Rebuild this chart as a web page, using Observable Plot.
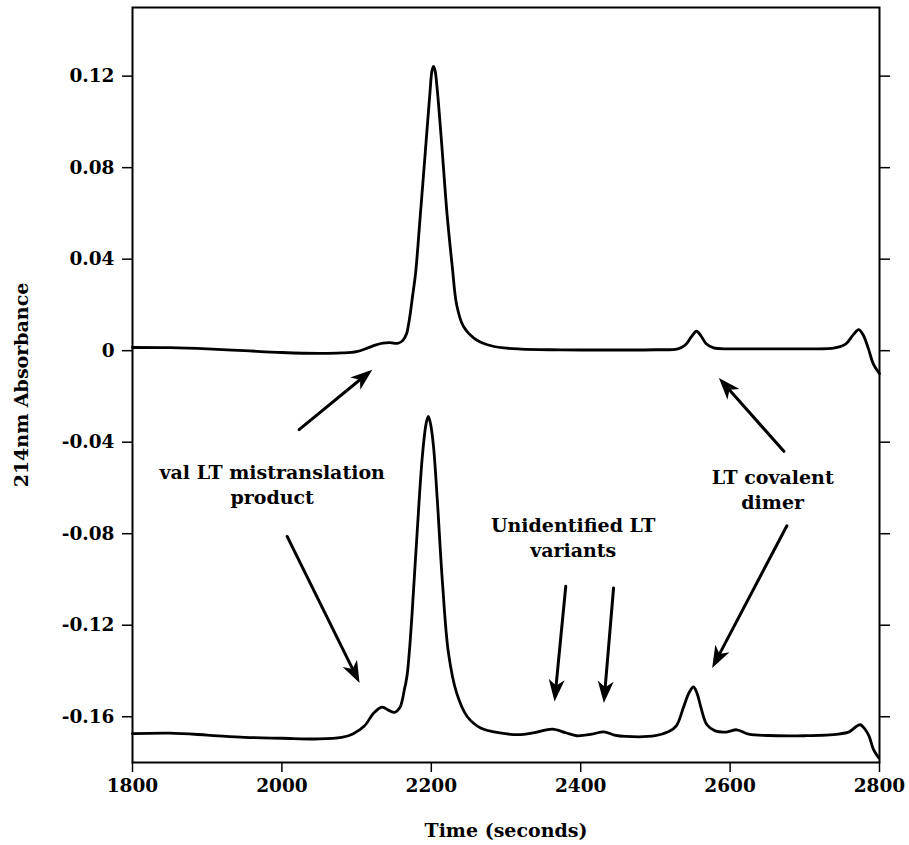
<!DOCTYPE html>
<html><head><meta charset="utf-8">
<script src="https://cdn.jsdelivr.net/npm/d3@7"></script>
<script src="https://cdn.jsdelivr.net/npm/@observablehq/plot@0.6"></script>
<style>
body{margin:0;background:#fff;}
#chart svg{display:block;}
</style></head><body><div id="chart"></div>
<script>
// Upper chromatogram (seconds, absorbance)
const upperTime = [1800,1850,1900,1950,2000,2050,2080,2100,2115,2125,2135,2145,2155,2162,2167,2169,2172,2175,2179,2185,2192,2198,2201,2203,2205,2208,2214,2221,2228,2234,2243,2257,2275,2297,2320,2360,2400,2450,2500,2530,2540,2548,2555,2561,2568,2578,2600,2650,2700,2740,2755,2765,2772,2778,2785,2792,2800];
const upperAbs = [0.0014,0.0013,0.0008,0.0000,-0.0008,-0.0012,-0.0010,-0.0004,0.0012,0.0024,0.0033,0.0035,0.0032,0.0045,0.0075,0.0105,0.0166,0.024,0.034,0.058,0.087,0.112,0.1225,0.1243,0.1225,0.114,0.090,0.060,0.037,0.0200,0.0106,0.0055,0.0026,0.0012,0.0007,0.0004,0.0003,0.0003,0.0004,0.0008,0.0025,0.0060,0.0085,0.0065,0.0030,0.0012,0.0008,0.0008,0.0008,0.0012,0.0030,0.0070,0.0092,0.0070,0.0010,-0.0060,-0.0100];
// Lower chromatogram
const lowerTime = [1800,1850,1900,1950,2000,2050,2080,2095,2110,2123,2134,2143,2151,2158,2161,2164,2166,2168,2171,2174,2181,2188,2193,2196,2199,2203,2208,2215,2223,2234,2248,2266,2292,2320,2340,2362,2380,2395,2415,2431,2445,2460,2500,2518,2528,2538,2545,2551,2556,2561,2569,2580,2595,2609,2625,2650,2700,2745,2760,2768,2774,2780,2786,2792,2799];
const lowerAbs = [-0.1674,-0.1672,-0.1680,-0.1690,-0.1694,-0.1697,-0.1690,-0.1675,-0.1642,-0.1584,-0.1558,-0.1572,-0.1581,-0.1560,-0.1530,-0.1480,-0.1450,-0.1409,-0.1300,-0.1162,-0.0797,-0.0462,-0.0320,-0.0287,-0.0320,-0.0420,-0.0651,-0.1016,-0.1322,-0.1497,-0.1599,-0.1649,-0.1671,-0.1678,-0.1668,-0.1654,-0.1670,-0.1683,-0.1676,-0.1666,-0.1680,-0.1686,-0.1683,-0.1665,-0.1640,-0.1555,-0.1495,-0.1470,-0.1500,-0.1560,-0.1635,-0.1662,-0.1667,-0.1657,-0.1676,-0.1682,-0.1683,-0.1676,-0.1665,-0.1645,-0.1635,-0.1652,-0.1685,-0.1744,-0.1780];

const xTicks = [1800,2000,2200,2400,2600,2800];
const yTicks = [-0.16,-0.12,-0.08,-0.04,0,0.04,0.08,0.12];

const noteText = ["val LT mistranslation\nproduct","Unidentified LT\nvariants","LT covalent\ndimer"];
const noteTime = [1987, 2390, 2657];
const noteAbs = [-0.058, -0.0812, -0.0602];

const arrowTailTime = [2023, 2007, 2380, 2444, 2672, 2676];
const arrowTailAbs  = [-0.0345, -0.0812, -0.103, -0.1037, -0.044, -0.0765];
const arrowTipTime  = [2121, 2104, 2365, 2431, 2585, 2576];
const arrowTipAbs   = [-0.0083, -0.1453, -0.1533, -0.154, -0.0119, -0.1387];

const traces = [
  ...upperTime.map((t,i)=>({trace:"upper", t, a:upperAbs[i]})),
  ...lowerTime.map((t,i)=>({trace:"lower", t, a:lowerAbs[i]}))
];
const notes = noteText.map((s,i)=>({s, t:noteTime[i], a:noteAbs[i]}));
const arrows = arrowTailTime.map((t,i)=>({x1:t, y1:arrowTailAbs[i], x2:arrowTipTime[i], y2:arrowTipAbs[i]}));

const FONT = "'DejaVu Serif', serif";
const common = {
  width: 909, height: 845,
  marginLeft: 132, marginRight: 30, marginTop: 7, marginBottom: 83,
  x: {domain: [1800, 2800]},
  y: {domain: [-0.18, 0.15]}
};
const probe = Plot.plot({...common, marks: [Plot.frame()]});
const sx = probe.scale("x"), sy = probe.scale("y");
arrows.forEach(a => {
  const dx = sx.apply(a.x2) - sx.apply(a.x1);
  const dy = sy.apply(a.y2) - sy.apply(a.y1);
  a.angle = Math.atan2(dx, -dy) * 180 / Math.PI;
});

const headShape = {
  draw(context, l) {
    const w = 8;
    context.moveTo(0, -l);
    context.lineTo(-w, 0);
    context.lineTo(0, -l * 0.28);
    context.lineTo(w, 0);
    context.closePath();
  }
};

const chart = Plot.plot({
  ...common,
  style: {fontFamily: FONT, fontWeight: "bold", fontSize: "18.5px", color: "black", background: "white"},
  marks: [
    Plot.axisX({ticks: xTicks, tickSize: 10, tickPadding: 6, label: null, strokeWidth: 1.5, tickFormat: d => String(d)}),
    Plot.axisY({anchor: "left", ticks: yTicks, tickSize: 10, tickPadding: 8, label: null, strokeWidth: 1.5,
      tickFormat: d => d === 0 ? "0" : d.toFixed(2)}),
    Plot.axisY({anchor: "right", ticks: yTicks, tickSize: 10, label: null, strokeWidth: 1.5, tickFormat: () => ""}),
    Plot.frame({stroke: "black", strokeWidth: 2}),
    Plot.line(traces, {x: "t", y: "a", z: "trace", stroke: "black", strokeWidth: 2.8, curve: "catmull-rom"}),
    Plot.arrow(arrows, {x1: "x1", y1: "y1", x2: "x2", y2: "y2", headLength: 0, insetEnd: 12, stroke: "black", strokeWidth: 3}),
    Plot.vector(arrows, {x: "x2", y: "y2", rotate: "angle", length: 22, anchor: "end", shape: headShape, fill: "black", stroke: "none"}),
    Plot.text(notes, {x: "t", y: "a", text: "s", fontSize: 19, lineHeight: 1.32, fill: "black", textAnchor: "middle"}),
    Plot.text(["Time (seconds)"], {text: d => d, frameAnchor: "bottom", dy: 68, lineAnchor: "middle", textAnchor: "middle", fontSize: 19, fill: "black"}),
    Plot.text(["214nm Absorbance"], {text: d => d, frameAnchor: "left", dx: -111, rotate: -90, lineAnchor: "middle", textAnchor: "middle", fontSize: 19, fill: "black"})
  ]
});
document.getElementById("chart").appendChild(chart);
</script>
</body></html>
